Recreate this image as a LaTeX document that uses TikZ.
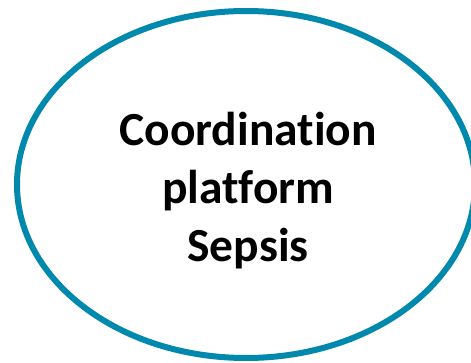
\documentclass[tikz,border=0pt]{standalone}
\usepackage{fontspec}
\setmainfont{Carlito}[Ligatures=CommonOff]
\usetikzlibrary{shapes.geometric, positioning}
\definecolor{platformblue}{RGB}{0,137,172}

\begin{document}
\begin{tikzpicture}[x=1pt, y=1pt]
            \useasboundingbox (0,0) rectangle (471,362);
            \node[ellipse, draw=platformblue, line width=6pt, fill=white,
                  minimum width=458pt, minimum height=347pt, inner sep=0pt]
                  (platform) at (246,177.5) {};
            \node[align=center, font=\fontsize{47.5}{58}\selectfont\bfseries,
                  below right=6pt and 2pt of platform.center, anchor=center]
                  (title) {Coordination\\platform\\Sepsis};
        \end{tikzpicture}
\end{document}
